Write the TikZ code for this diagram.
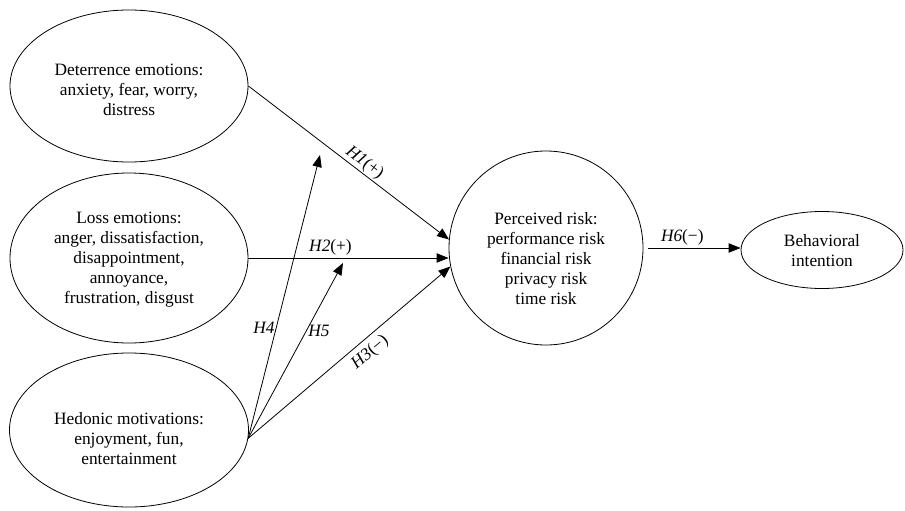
\documentclass[tikz,border=0pt]{standalone}
\usepackage{fontspec}
\setmainfont{Liberation Serif}
\usetikzlibrary{shapes.geometric,arrows.meta}
\begin{document}
\begin{tikzpicture}[x=0.75pt,y=-0.75pt,
  every node/.style={font=\fontsize{13}{15}\selectfont},
  shapebox/.style={draw,line width=0.6pt,inner sep=0pt},
  ell/.style={shapebox,ellipse},
  txt/.style={align=center,inner sep=0pt},
  arr/.style={line width=0.6pt,-{Triangle[length=9pt,width=7pt]}},
  lab/.style={inner sep=1.5pt}]
\useasboundingbox (0,0) rectangle (905,510);
% shapes
\node[ell,minimum width=178.5pt,minimum height=114pt] (det) at (129,86) {};
\node[txt] (dett) at (129,90) {Deterrence emotions:\\anxiety, fear, worry,\\distress};
\node[ell,minimum width=178.5pt,minimum height=127.5pt] (loss) at (129,258) {};
\node[txt] (losst) at (129,260) {Loss emotions:\\anger, dissatisfaction,\\disappointment,\\annoyance,\\frustration, disgust};
\node[ell,minimum width=179.25pt,minimum height=115.5pt] (hed) at (129,430) {};
\node[txt] (hedt) at (129,439) {Hedonic motivations:\\enjoyment, fun,\\entertainment};
\node[shapebox,circle,minimum size=145.5pt] (pr) at (546,248) {};
\node[txt] (prt) at (546,259) {Perceived risk:\\performance risk\\financial risk\\privacy risk\\time risk};
\node[ell,minimum width=121.5pt,minimum height=57.75pt] (beh) at (822,250) {};
\node[txt] (beht) at (822,251) {Behavioral\\intention};
% free ends
\coordinate (h4end) at (320,155);
\coordinate (h5end) at (343,263);
\coordinate (hedout) at (hed.-4.3);
% connectors
\draw[arr] (det.east) -- (pr.175) node[lab,pos=0.55,sloped,above,inner sep=1pt] {\textit{H1}(+)};
\draw[arr] (loss.east) -- (loss.east -| pr.west) node[lab,pos=0.41,above] {\textit{H2}(+)};
\draw[arr] (hedout) -- (pr.191) node[lab,pos=0.56,sloped,below,inner sep=4pt] {\textit{H3}(−)};
\draw[arr] (hedout) -- (h4end) node[lab,pos=0.39,left,inner sep=1pt] {\textit{H4}};
\draw[arr] (hedout) -- (h5end) node[lab,pos=0.61,right] {\textit{H5}};
\draw[arr,shorten <=3.5pt] (pr.east) -- (pr.east -| beh.west) node[lab,pos=0.4,above] {\textit{H6}(−)};
\end{tikzpicture}
\end{document}
